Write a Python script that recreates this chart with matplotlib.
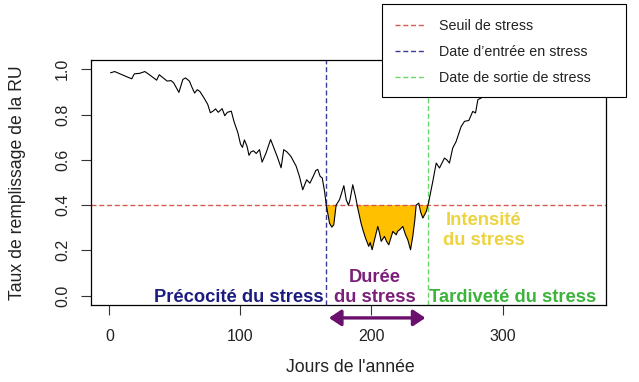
"""
Taux de remplissage de la RU au cours de l'année, avec période de stress hydrique.
"""
import numpy as np
import matplotlib.pyplot as plt
from matplotlib.lines import Line2D
from matplotlib.patches import Rectangle, ArrowStyle

plt.rcParams['font.family'] = ['Liberation Sans', 'DejaVu Sans']

# courbe (jour, taux de remplissage)
jours = [1, 4, 6, 10, 14, 17, 19, 23, 27, 30, 33, 36, 38, 41, 44, 47, 49, 53, 56, 58,
         61, 63, 65, 67, 69, 72, 75, 77, 79, 81, 83, 86, 88, 90, 93, 95, 98, 100, 101.5,
         103, 105, 106.5, 108, 110, 112, 114.5, 116.5, 119.5, 123, 125, 128, 131, 133,
         135.5, 138.5, 142.5, 145, 147.5, 150.5, 153, 155.5, 157.5, 159, 160.8, 162.4,
         164.2, 165.5, 168, 169.7, 171.2, 173, 175.6, 178.9, 180.7, 182.4, 183.5, 185.7,
         187.8, 189.5, 192, 193.5, 195.4, 197.9, 199, 200.5, 202.3, 204.8, 206, 207.4,
         209.9, 211.5, 213.2, 216.3, 218.9, 220, 221.4, 223.9, 226, 227.7, 229.8, 231.5,
         233, 234.1, 236.1, 237.5, 239.2, 241.8, 243.5, 246.8, 249.4, 251.9, 255.7, 257.5,
         259.5, 262, 264.6, 268.4, 271, 274.3, 277.3, 279.4, 281.2, 283.7, 287, 292, 297, 302]
taux_ru = [0.985, 0.99, 0.985, 0.975, 0.965, 0.958, 0.98, 0.982, 0.99, 0.978, 0.965, 0.952,
           0.976, 0.962, 0.948, 0.95, 0.94, 0.898, 0.955, 0.962, 0.948, 0.92, 0.895, 0.91,
           0.902, 0.875, 0.845, 0.808, 0.815, 0.825, 0.81, 0.826, 0.795, 0.81, 0.815, 0.77,
           0.72, 0.67, 0.655, 0.688, 0.66, 0.62, 0.635, 0.64, 0.628, 0.645, 0.59, 0.63, 0.69,
           0.66, 0.615, 0.565, 0.645, 0.635, 0.615, 0.572, 0.527, 0.468, 0.512, 0.497, 0.527,
           0.553, 0.558, 0.527, 0.52, 0.46, 0.40, 0.32, 0.303, 0.313, 0.40, 0.424, 0.486,
           0.424, 0.40, 0.42, 0.49, 0.438, 0.387, 0.321, 0.29, 0.255, 0.218, 0.235, 0.203,
           0.247, 0.306, 0.28, 0.24, 0.262, 0.24, 0.225, 0.284, 0.269, 0.285, 0.291, 0.306,
           0.269, 0.247, 0.203, 0.262, 0.33, 0.40, 0.409, 0.37, 0.343, 0.372, 0.409, 0.505,
           0.586, 0.564, 0.608, 0.6, 0.586, 0.652, 0.681, 0.747, 0.77, 0.774, 0.814, 0.807,
           0.866, 0.873, 0.9, 0.93, 0.96, 0.97]

seuil = 0.4
jour_entree = 165.4
jour_sortie = 243.3

legende = ["Seuil de stress", "Date d\u2019entrée en stress", "Date de sortie de stress"]

rouge = '#d65a50'
bleu = '#3b3b9c'
vert = '#66d966'
tirets = (0, (3.6, 2.0))

jours = np.array(jours)
taux_ru = np.array(taux_ru)

fig = plt.figure(figsize=(6.39, 3.82), dpi=100)
W, H = 639, 382
ax = fig.add_axes([91 / W, 1 - 305 / H, (606 - 91) / W, (305 - 60) / H])

ax.plot(jours, taux_ru, color='black', lw=0.8, zorder=3)
ax.fill_between(jours, taux_ru, seuil, where=taux_ru <= seuil, interpolate=True,
                color='#ffc000', lw=0, zorder=2)

ax.axhline(seuil, color=rouge, lw=1, linestyle=tirets, zorder=2.5)
ax.axvline(jour_entree, color=bleu, lw=1, linestyle=tirets, zorder=2.5)
ax.axvline(jour_sortie, color=vert, lw=1, linestyle=tirets, zorder=2.5)

ax.set_xlim(-14.1, 379)
ax.set_ylim(-0.041, 1.041)
ax.set_xticks([0, 100, 200, 300])
ax.set_yticks([0.0, 0.2, 0.4, 0.6, 0.8, 1.0])
ax.set_yticklabels(['0.0', '0.2', '0.4', '0.6', '0.8', '1.0'], rotation=90, va='center')
ax.tick_params(axis='both', length=7, width=0.8, labelsize=11.5, color='#333333',
               labelcolor='#222222')
ax.tick_params(axis='x', pad=10)
ax.tick_params(axis='y', pad=8)
for s in ax.spines.values():
    s.set_linewidth(0.9)

ax.set_xlabel("Jours de l'année", fontsize=12.7, color='#222222')
ax.xaxis.set_label_coords(0.503, (305 - 368) / 245)
ax.xaxis.label.set_va('center')
ax.set_ylabel("Taux de remplissage de la RU", fontsize=12.7, color='#222222')
ax.yaxis.set_label_coords((17 - 91) / 515, 0.5)
ax.yaxis.label.set_va('center')

# textes explicatifs
kw = dict(fontsize=13.2, fontweight='bold', va='baseline')
ax.text(jour_entree - 2.2, -0.026, "Précocité du stress", color='#1c1c80', ha='right', **kw)
ax.text(jour_sortie + 0.5, -0.026, "Tardiveté du stress", color='#3cb43c', ha='left', **kw)
ax.text(202.5, 0.062, "Durée", color='#7b1f7b', ha='center', **kw)
ax.text(202.5, -0.026, "du stress", color='#7b1f7b', ha='center', **kw)
ax.text(285.8, 0.312, "Intensité", color='#eed340', ha='center', **kw)
ax.text(285.8, 0.224, "du stress", color='#eed340', ha='center', **kw)

# flèche de durée
ax.annotate('', xy=(jour_entree, -0.098), xytext=(jour_sortie, -0.098),
            arrowprops=dict(arrowstyle=ArrowStyle('<|-|>', head_length=0.3, head_width=0.2),
                            color='#6c106e', lw=2.4, mutation_scale=24),
            annotation_clip=False)

# légende
cadre = Rectangle((382 / W, 1 - 97 / H), 244 / W, 93 / H, transform=fig.transFigure,
                  facecolor='white', edgecolor='black', lw=0.8, zorder=10, clip_on=False)
ax.add_patch(cadre)
poignees = [Line2D([], [], color=c, lw=1, linestyle=tirets) for c in (rouge, bleu, vert)]
leg = ax.legend(poignees, legende, loc='upper left', bbox_to_anchor=(395 / W, 1 - 19.5 / H),
                bbox_transform=fig.transFigure, frameon=False, borderpad=0, borderaxespad=0,
                fontsize=10.3, handlelength=2.1, handletextpad=1.0, labelspacing=0.83)
for t in leg.get_texts():
    t.set_color('#222222')
leg.set_zorder(11)

fig.savefig('out.png', dpi=100)
